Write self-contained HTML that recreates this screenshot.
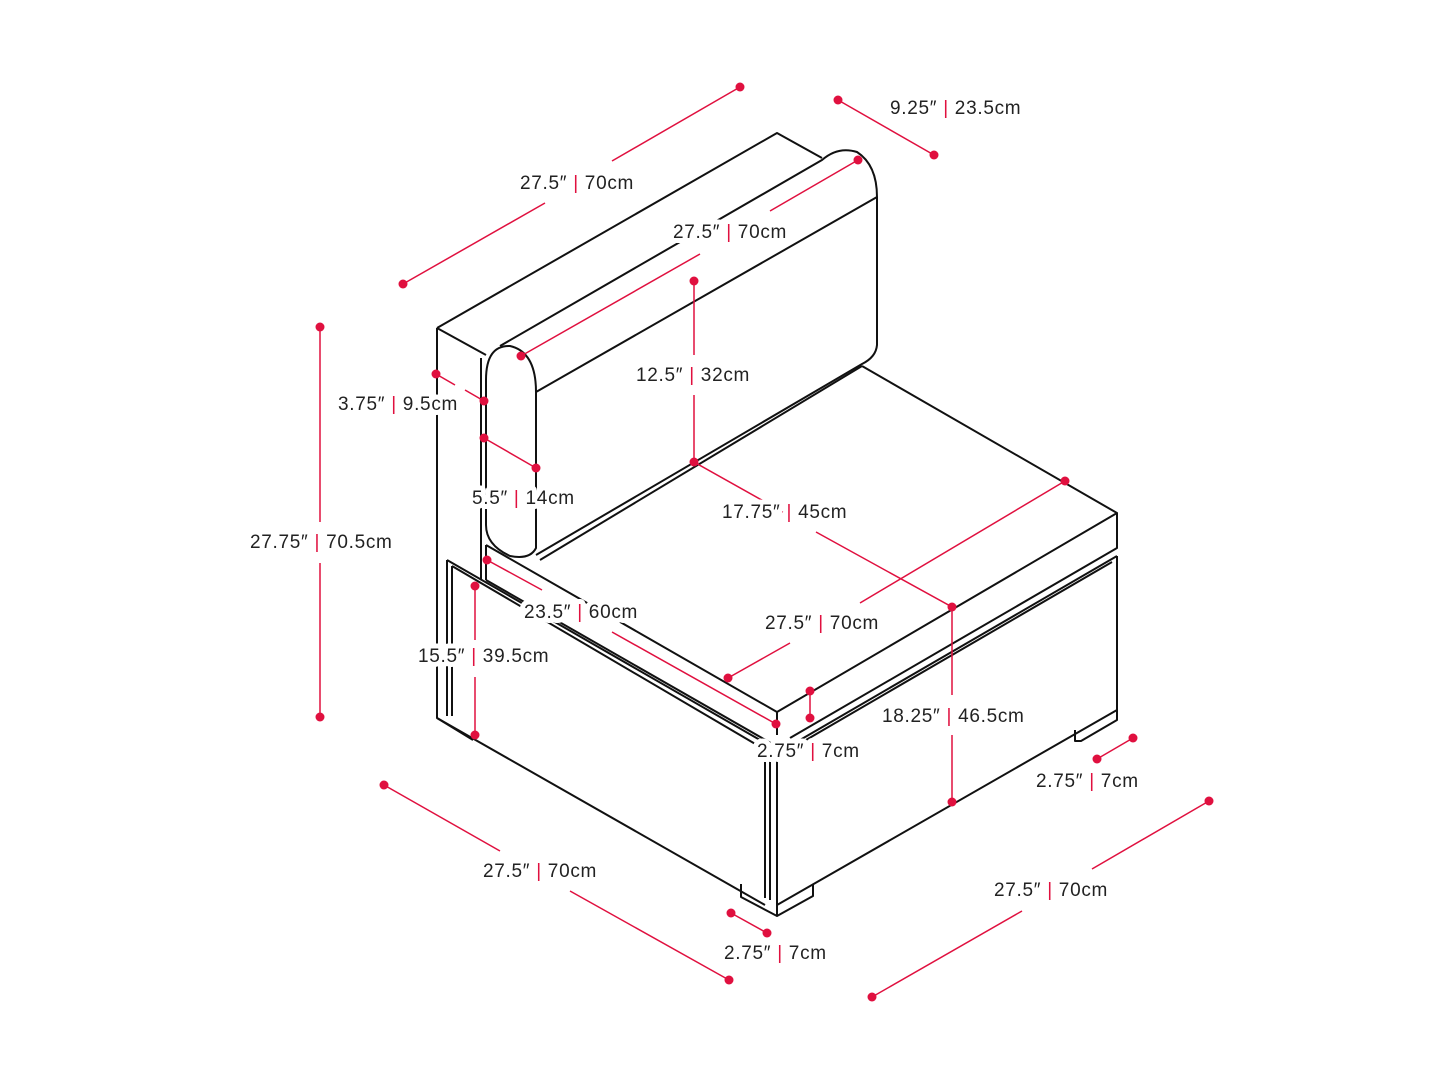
<!DOCTYPE html>
<html><head><style>
html,body{margin:0;padding:0;background:#fff;}
svg{display:block;}
text{font-family:"Liberation Sans",sans-serif;font-size:19px;letter-spacing:0.7px;fill:#222;stroke:#fff;stroke-width:10px;paint-order:stroke;stroke-linejoin:round;}
.l{stroke:#111;stroke-width:2;fill:none;stroke-linejoin:round;}
.r{stroke:#e0103f;stroke-width:1.5;fill:none;}
.d{fill:#e0103f;}
</style></head><body>
<svg width="1445" height="1084" viewBox="0 0 1445 1084" xmlns="http://www.w3.org/2000/svg">
<g class="l">
<path d="M437,328 L777,133 L822,158"/>
<path d="M437,328 L486,355"/>
<path d="M437,328 L437,718 L473,740"/>
<path d="M500,346 L822,160 Q838,146 857,152 Q877,165 877,197 L877,345 Q876,357 862,364 L536,555"/>
<path d="M536,392 L877,197"/>
<path d="M486,380 Q486,345 510,346 Q536,352 536,392 L536,548 Q530,560 510,556 Q486,545 486,525"/>
<path d="M486,380 L486,525"/>
<path d="M481,358 L481,580"/>
<path d="M540,560 L862,366"/>
<path d="M862,366 L1117,513 L777,712 L486,545"/>
<path d="M486,545 L486,580"/>
<path d="M1117,513 L1117,548 L790,738"/>
<path d="M777,712 L777,735"/>
<path d="M1117,556 L800,740"/>
<path d="M1112,562 L806,740"/>
<path d="M447,560 L447,716"/>
<path d="M452,566 L452,716"/>
<path d="M447,560 L760,740"/>
<path d="M452,566 L757,745"/>
<path d="M486,580 L776,746"/>
<path d="M437,718 L765,905"/>
<path d="M765,752 L765,898"/>
<path d="M770,752 L770,900"/>
<path d="M777,752 L777,905"/>
<path d="M777,905 L1117,710 L1117,556"/>
<path d="M741,884 L741,897 L777,916 L813,896 L813,884"/>
<path d="M777,905 L777,916"/>
<path d="M1075,730 L1075,741 L1081,741 L1117,720 L1117,710"/>
</g>
<g class="r">
<path d="M403,284 L545,203"/><path d="M612,161 L740,87"/>
<path d="M838,100 L934,155"/>
<path d="M521,356 L700,254"/><path d="M770,211 L858,160"/>
<path d="M694,281 L694,355"/><path d="M694,395 L694,462 L783,512"/>
<path d="M436,374 L455,385"/><path d="M465,390 L484,401"/>
<path d="M484,438 L536,468"/>
<path d="M320,327 L320,522"/><path d="M320,563 L320,717"/>
<path d="M487,560 L542,590"/><path d="M612,632 L776,724"/>
<path d="M475,586 L475,640"/><path d="M475,677 L475,735"/>
<path d="M816,532 L952,607 L952,695"/><path d="M952,735 L952,802"/>
<path d="M860,603 L1065,481"/>
<path d="M728,678 L790,643"/>
<path d="M810,691 L810,718"/>
<path d="M1097,759 L1133,738"/>
<path d="M384,785 L500,851"/><path d="M570,891 L729,980"/>
<path d="M731,913 L767,933"/>
<path d="M1092,869 L1209,801"/><path d="M872,997 L1022,911"/>
</g>
<g>
<text x="520" y="189">27.5″ <tspan fill="#e0103f">|</tspan> 70cm</text>
<text x="890" y="114">9.25″ <tspan fill="#e0103f">|</tspan> 23.5cm</text>
<text x="673" y="238">27.5″ <tspan fill="#e0103f">|</tspan> 70cm</text>
<text x="636" y="381">12.5″ <tspan fill="#e0103f">|</tspan> 32cm</text>
<text x="338" y="410">3.75″ <tspan fill="#e0103f">|</tspan> 9.5cm</text>
<text x="472" y="504">5.5″ <tspan fill="#e0103f">|</tspan> 14cm</text>
<text x="250" y="548">27.75″ <tspan fill="#e0103f">|</tspan> 70.5cm</text>
<text x="722" y="518">17.75″ <tspan fill="#e0103f">|</tspan> 45cm</text>
<text x="524" y="618">23.5″ <tspan fill="#e0103f">|</tspan> 60cm</text>
<text x="765" y="629">27.5″ <tspan fill="#e0103f">|</tspan> 70cm</text>
<text x="418" y="662">15.5″ <tspan fill="#e0103f">|</tspan> 39.5cm</text>
<text x="882" y="722">18.25″ <tspan fill="#e0103f">|</tspan> 46.5cm</text>
<text x="757" y="757">2.75″ <tspan fill="#e0103f">|</tspan> 7cm</text>
<text x="1036" y="787">2.75″ <tspan fill="#e0103f">|</tspan> 7cm</text>
<text x="483" y="877">27.5″ <tspan fill="#e0103f">|</tspan> 70cm</text>
<text x="994" y="896">27.5″ <tspan fill="#e0103f">|</tspan> 70cm</text>
<text x="724" y="959">2.75″ <tspan fill="#e0103f">|</tspan> 7cm</text>
</g>
<g class="d">
<circle cx="403" cy="284" r="4.5"/><circle cx="740" cy="87" r="4.5"/>
<circle cx="838" cy="100" r="4.5"/><circle cx="934" cy="155" r="4.5"/>
<circle cx="521" cy="356" r="4.5"/><circle cx="858" cy="160" r="4.5"/>
<circle cx="694" cy="281" r="4.5"/><circle cx="694" cy="462" r="4.5"/>
<circle cx="436" cy="374" r="4.5"/><circle cx="484" cy="401" r="4.5"/>
<circle cx="484" cy="438" r="4.5"/><circle cx="536" cy="468" r="4.5"/>
<circle cx="320" cy="327" r="4.5"/><circle cx="320" cy="717" r="4.5"/>
<circle cx="487" cy="560" r="4.5"/><circle cx="776" cy="724" r="4.5"/>
<circle cx="475" cy="586" r="4.5"/><circle cx="475" cy="735" r="4.5"/>
<circle cx="952" cy="607" r="4.5"/><circle cx="952" cy="802" r="4.5"/>
<circle cx="1065" cy="481" r="4.5"/><circle cx="728" cy="678" r="4.5"/>
<circle cx="810" cy="691" r="4.5"/><circle cx="810" cy="718" r="4.5"/>
<circle cx="1097" cy="759" r="4.5"/><circle cx="1133" cy="738" r="4.5"/>
<circle cx="384" cy="785" r="4.5"/><circle cx="729" cy="980" r="4.5"/>
<circle cx="731" cy="913" r="4.5"/><circle cx="767" cy="933" r="4.5"/>
<circle cx="1209" cy="801" r="4.5"/><circle cx="872" cy="997" r="4.5"/>
</g>
</svg>
</body></html>
